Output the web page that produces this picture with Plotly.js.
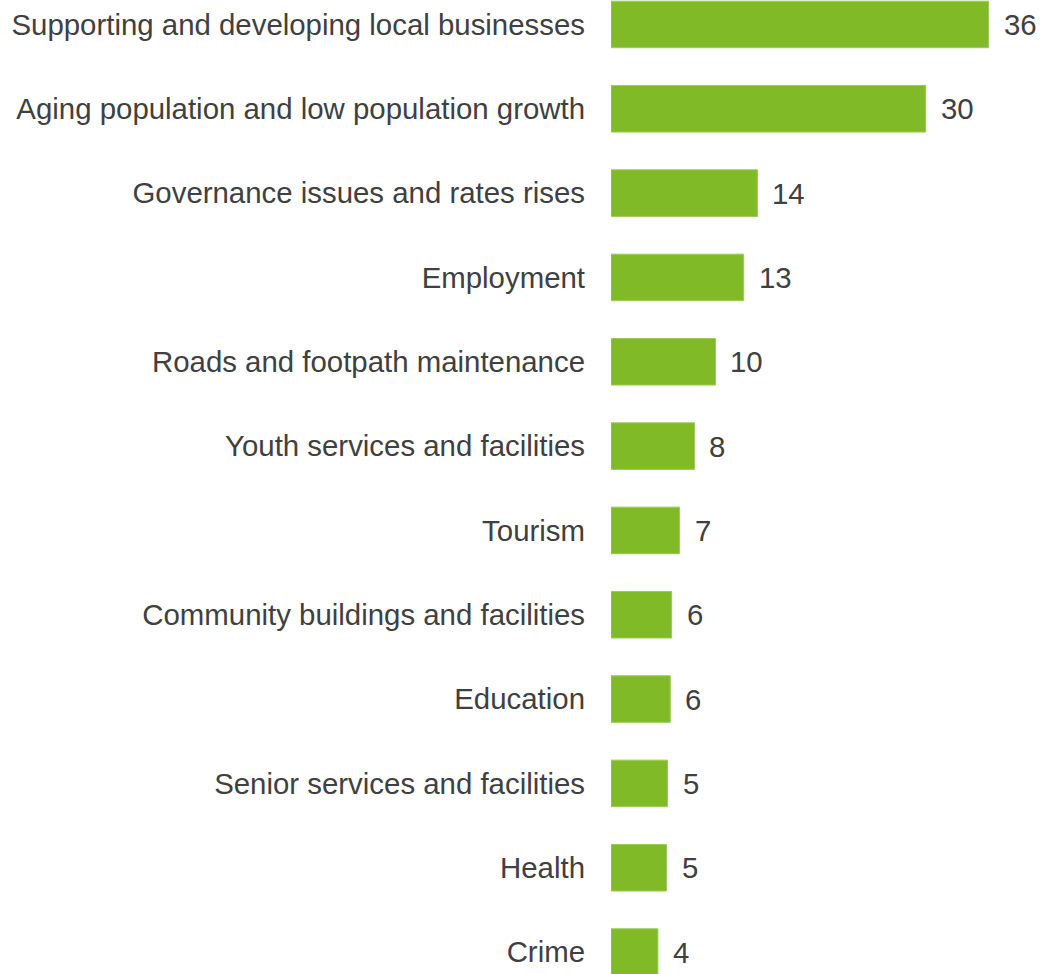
<!DOCTYPE html>
<html>
<head>
<meta charset="utf-8">
<script src="https://cdn.plot.ly/plotly-3.0.1.min.js"></script>
<style>html,body{margin:0;padding:0;background:#fff;}#chart{width:1040px;height:974px;}</style>
</head>
<body>
<div id="chart"></div>
<script>
var categories = [
  "Supporting and developing local businesses",
  "Aging population and low population growth",
  "Governance issues and rates rises",
  "Employment",
  "Roads and footpath maintenance",
  "Youth services and facilities",
  "Tourism",
  "Community buildings and facilities",
  "Education",
  "Senior services and facilities",
  "Health",
  "Crime"
];
var values = [36, 30, 13.96, 12.65, 9.96, 7.96, 6.54, 5.78, 5.65, 5.39, 5.3, 4.47];
var valueLabels = ["36", "30", "14", "13", "10", "8", "7", "6", "6", "5", "5", "4"];

var barColor = "#80BA27";
var textColor = "#404040";
var fontFamily = "Liberation Sans, Arial, sans-serif";

var trace = {
  type: "bar",
  orientation: "h",
  y: categories,
  x: values,
  marker: {color: barColor, line: {color: "#9BCB5A", width: 1}},
  hoverinfo: "none"
};

var annotations = categories.map(function (c, i) {
  return {
    x: values[i], y: c, xref: "x", yref: "y",
    text: valueLabels[i], showarrow: false,
    xanchor: "left", yanchor: "middle", xshift: 13,
    font: {family: fontFamily, size: 29.4, color: textColor}
  };
});

var layout = {
  width: 1040, height: 974,
  margin: {l: 611, r: 0, t: 0, b: 0, pad: 0},
  paper_bgcolor: "#ffffff", plot_bgcolor: "#ffffff",
  showlegend: false,
  bargap: 0.448,
  xaxis: {range: [0, 40.9], visible: false, fixedrange: true},
  yaxis: {
    type: "category",
    categoryorder: "array", categoryarray: categories,
    range: [11.26, -0.29],
    showgrid: false, zeroline: false, showline: false,
    ticks: "", ticklabelstandoff: 25,
    tickfont: {family: fontFamily, size: 29.4, color: textColor},
    automargin: false, fixedrange: true
  },
  annotations: annotations
};

Plotly.newPlot("chart", [trace], layout, {displayModeBar: false, staticPlot: true});
</script>
</body>
</html>
